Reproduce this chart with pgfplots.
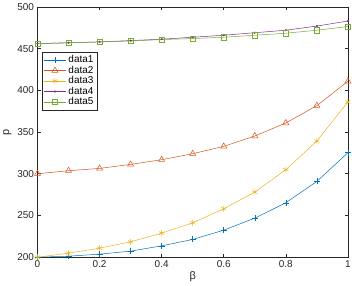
\documentclass[border=0pt]{standalone}
\usepackage{pgfplots}
\pgfplotsset{compat=1.18}
\usepackage{fontspec}
\setmainfont{Liberation Sans}
\definecolor{c1}{rgb}{0,0.447,0.741}
\definecolor{c2}{rgb}{0.85,0.325,0.098}
\definecolor{c3}{rgb}{0.929,0.694,0.125}
\definecolor{c4}{rgb}{0.494,0.184,0.556}
\definecolor{c5}{rgb}{0.466,0.674,0.188}
\definecolor{axgray}{rgb}{0.15,0.15,0.15}
\begin{document}
\begin{tikzpicture}
\begin{axis}[
  scale only axis,
  width=310bp, height=250bp,
  xmin=0, xmax=1, ymin=200, ymax=500,
  xtick={0,0.2,0.4,0.6,0.8,1},
  xticklabels={0,0.2,0.4,0.6,0.8,1},
  ytick={200,250,300,350,400,450,500},
  tick align=inside,
  major tick length=3bp,
  axis line style={axgray, line width=0.5pt},
  every tick/.style={axgray, line width=0.5pt},
  tick label style={font=\fontsize{10}{12}\selectfont, text=axgray},
  /pgf/number format/assume math mode=true,
  xlabel={β}, ylabel={p},
  label style={font=\fontsize{11}{13}\selectfont, text=axgray},
  xlabel style={yshift=3bp},
  ylabel style={yshift=-1bp},
  legend style={at={(0.013,0.82)}, anchor=north west, font=\fontsize{10}{12}\selectfont, draw=axgray, line width=0.5pt, inner sep=1.5pt, row sep=-2.2bp},
  legend cell align=left,
  legend image code/.code={\draw[mark repeat=2,mark phase=2] plot coordinates {(0cm,0cm) (0.4cm,0cm) (0.8cm,0cm)};},
  every axis plot/.append style={line width=0.5pt},
]
\addplot[c1, mark=+, mark size=3bp] coordinates {
(0,200) (0.1,201.2) (0.2,203.6) (0.3,207.2) (0.4,213.6) (0.5,221.2) (0.6,232.4) (0.7,246.8) (0.8,265.2) (0.9,290.8) (1,325.2)};
\addlegendentry{data1}
\addplot[c2, mark=triangle, mark size=3.5bp] coordinates {
(0,300) (0.1,303.6) (0.2,306.4) (0.3,311.2) (0.4,316.8) (0.5,324) (0.6,332.8) (0.7,345.2) (0.8,360.8) (0.9,381.6) (1,410.8)};
\addlegendentry{data2}
\addplot[c3, mark=asterisk, mark size=3bp] coordinates {
(0,200) (0.1,204.8) (0.2,210.8) (0.3,218.4) (0.4,228.8) (0.5,241.2) (0.6,258) (0.7,278) (0.8,304.8) (0.9,339.2) (1,386)};
\addlegendentry{data3}
\addplot[c4, mark=*, mark size=0.8bp] coordinates {
(0,456) (0.1,457) (0.2,458) (0.3,459.6) (0.4,461.2) (0.5,463.6) (0.6,466) (0.7,469) (0.8,472) (0.9,477) (1,483)};
\addlegendentry{data4}
\addplot[c5, mark=square, mark size=2.6bp] coordinates {
(0,456) (0.1,456.8) (0.2,458) (0.3,459) (0.4,460.8) (0.5,462) (0.6,463.6) (0.7,466) (0.8,468.4) (0.9,472) (1,476.4)};
\addlegendentry{data5}
\end{axis}
\end{tikzpicture}
\end{document}
